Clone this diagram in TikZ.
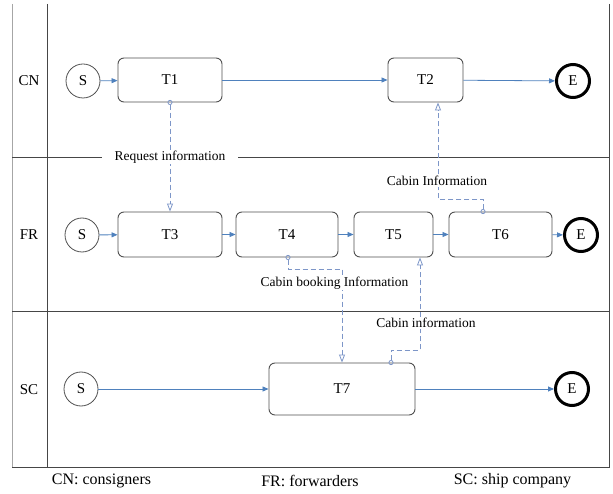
\documentclass[tikz,border=0pt]{standalone}
\usepackage{fontspec}
\setmainfont{Liberation Serif}
\usetikzlibrary{arrows.meta,calc}
\definecolor{flowblue}{RGB}{79,129,189}
\definecolor{msgblue}{RGB}{125,150,200}
\definecolor{boxgray}{RGB}{80,80,80}
\definecolor{lanegray}{RGB}{70,70,70}
\tikzset{
  task/.style={draw=boxgray, line width=0.9pt, rounded corners=6pt, minimum height=44pt, inner sep=0pt, font=\fontsize{15}{18}\selectfont},
  startev/.style={draw=boxgray, line width=0.8pt, circle, minimum size=34pt, inner sep=0pt, font=\fontsize{15}{18}\selectfont},
  endev/.style={draw=black, line width=3pt, circle, minimum size=33pt, inner sep=0pt, font=\fontsize{15}{18}\selectfont},
  flow/.style={draw=flowblue, line width=0.8pt, -{Triangle[length=6pt,width=5pt]}},
  msg/.style={draw=msgblue, line width=0.8pt, dash pattern=on 5pt off 3pt, shorten <=-2.5pt, {Circle[open,length=5pt,width=5pt]}-{Triangle[open,length=8pt,width=6pt]}},
  lbl/.style={font=\fontsize{13.5}{16}\selectfont, fill=white, inner sep=1pt},
  lane/.style={font=\fontsize{15}{18}\selectfont},
  note/.style={font=\fontsize{16}{19}\selectfont},
  laneline/.style={draw=lanegray, line width=1pt}
}
\begin{document}
\begin{tikzpicture}[x=1pt,y=-1pt]
\useasboundingbox (0,0) rectangle (613,494);
% lanes
\draw[draw=gray!70, line width=0.8pt] (12,4) -- (12,467);
\draw[laneline] (47,4) -- (47,467);
\draw[laneline] (609.5,4) -- (609.5,467);
\draw[laneline] (12,157.5) -- (609.5,157.5);
\draw[laneline] (12,312) -- (609.5,312);
\draw[laneline] (12,467) -- (609.5,467);
\node[lane] (cn) at (29,81) {CN};
\node[lane] (fr) at (29,235) {FR};
\node[lane] (sc) at (29,390) {SC};
% CN row
\node[startev] (s1) at (83,81) {S};
\node[task, minimum width=104pt] (t1) at (170,80) {T1};
\node[task, minimum width=75pt] (t2) at (425.5,80) {T2};
\node[endev] (e1) at (573,81) {E};
% FR row
\node[startev] (s2) at (82,235) {S};
\node[task, minimum width=104pt, minimum height=45pt] (t3) at (170,234.5) {T3};
\node[task, minimum width=102pt, minimum height=45pt] (t4) at (287,234.5) {T4};
\node[task, minimum width=79pt, minimum height=45pt] (t5) at (393.5,234.5) {T5};
\node[task, minimum width=103pt, minimum height=45pt] (t6) at (500.5,234.5) {T6};
\node[endev] (e2) at (581,235) {E};
% SC row
\node[startev] (s3) at (81,389) {S};
\node[task, minimum width=146pt, minimum height=52pt] (t7) at (342,389) {T7};
\node[endev] (e3) at (572,389) {E};
% sequence flows
\draw[flow] (s1) -- (t1);
\draw[flow] (t1) -- (t2);
\draw[flow] (t2) -- (e1);
\draw[flow] (s2) -- (t3);
\draw[flow] (t3) -- (t4);
\draw[flow] (t4) -- (t5);
\draw[flow] (t5) -- (t6);
\draw[flow] (t6) -- (e2);
\draw[flow] (s3) -- (t7);
\draw[flow] (t7) -- (e3);
% message flows
\coordinate (b1) at (483,199);
\coordinate (b2) at (438,199);
\coordinate (b3) at (288,269);
\coordinate (b4) at (342,269);
\coordinate (b5) at (391,350);
\coordinate (b6) at (420,350);
\draw[msg] (t1.south) -- (t3.north);
\draw[msg] ([xshift=-17.5pt]t6.north) -- (b1) -- (b2) -- ([xshift=12.5pt]t2.south);
\draw[msg] ([xshift=1pt]t4.south) -- (b3) -- (b4) -- (t7.north);
\draw[msg] ([xshift=49pt]t7.north) -- (b5) -- (b6) -- ([xshift=26.5pt]t5.south);
% labels
\node[lbl, inner xsep=13pt] (l1) at (170,157) {Request information};
\node[lbl] (l2) at (437,181) {Cabin Information};
\node[lbl] (l3) at (334.5,283) {Cabin booking Information};
\node[lbl] (l4) at (426,323) {Cabin information};
% legend
\node[note] (n1) at (101.5,481) {CN: consigners};
\node[note] (n2) at (310,481) {FR: forwarders};
\node[note] (n3) at (512.5,481) {SC: ship company};
\end{tikzpicture}
\end{document}
